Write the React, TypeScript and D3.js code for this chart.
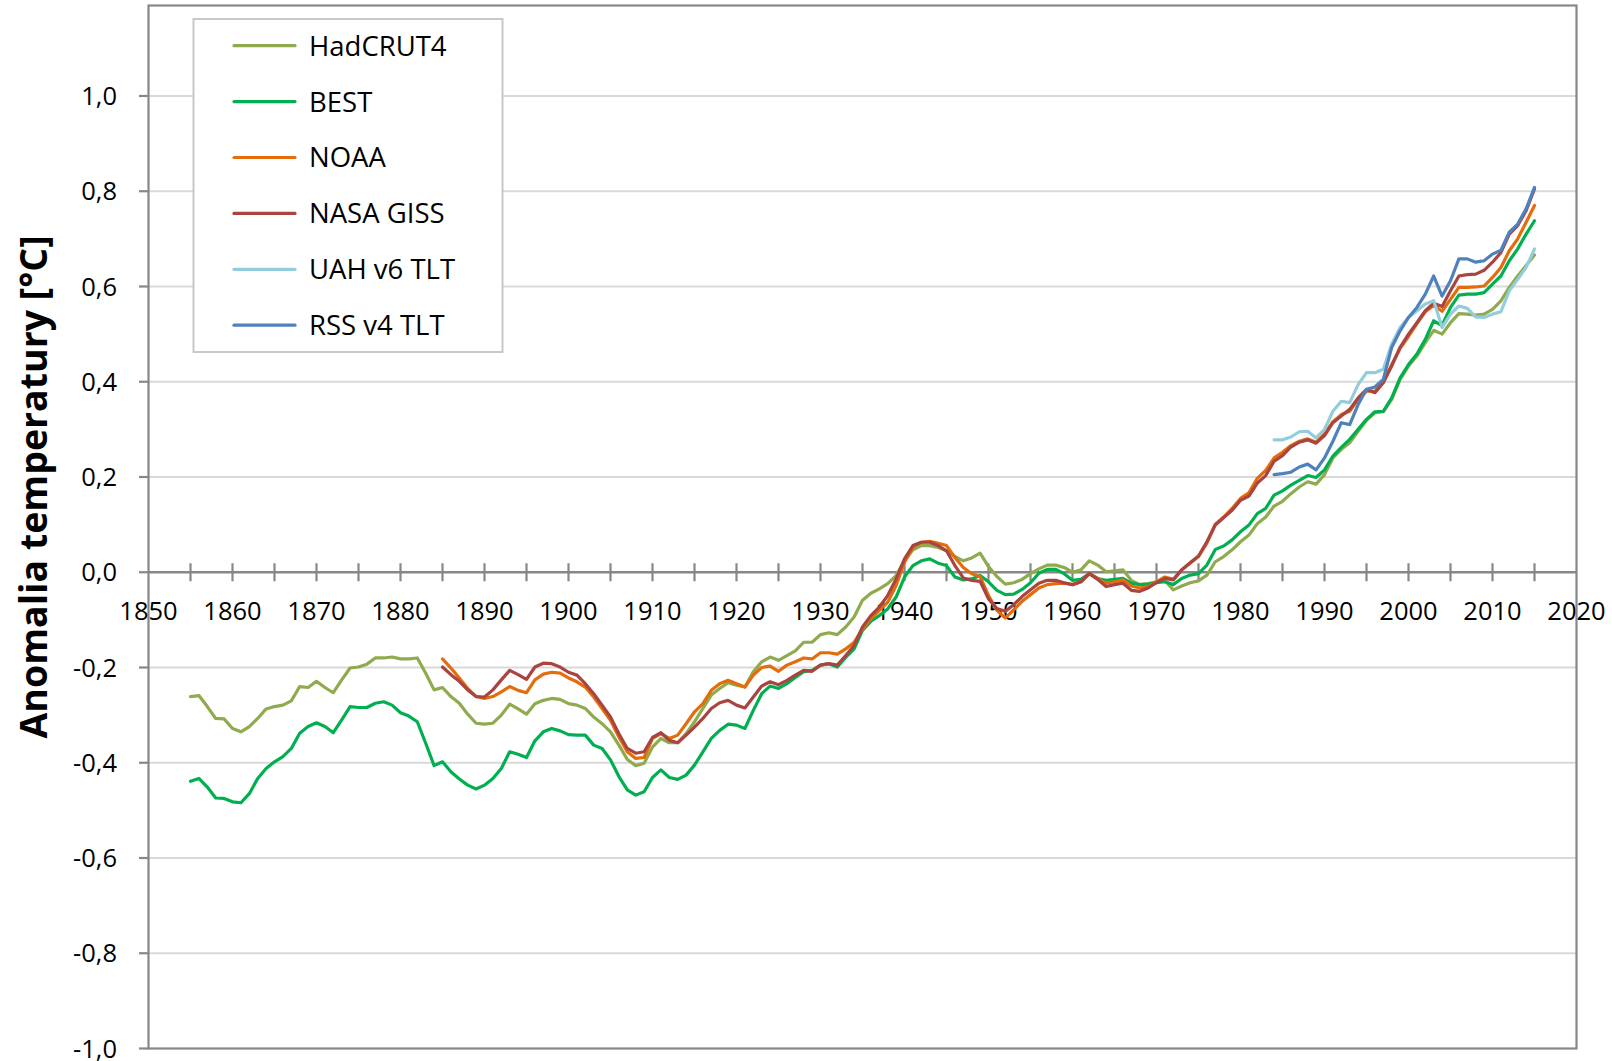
import React from "react";
import * as d3 from "d3";

// ---------- data ----------
const hadcrut4Start = 1855;
const hadcrut4 = [
  -0.261, -0.259, -0.282, -0.307, -0.308, -0.328, -0.335, -0.324, -0.307, -0.287, // 1855-1864
  -0.282, -0.279, -0.270, -0.240, -0.242, -0.229, -0.242, -0.253, -0.226, -0.201, // 1865-1874
  -0.199, -0.193, -0.180, -0.180, -0.178, -0.182, -0.182, -0.180, -0.212, -0.247, // 1875-1884
  -0.242, -0.261, -0.275, -0.298, -0.317, -0.319, -0.317, -0.300, -0.277, -0.287, // 1885-1894
  -0.298, -0.276, -0.269, -0.265, -0.267, -0.276, -0.279, -0.286, -0.304, -0.318, // 1895-1904
  -0.335, -0.363, -0.393, -0.406, -0.401, -0.367, -0.349, -0.358, -0.358, -0.339, // 1905-1914
  -0.314, -0.286, -0.258, -0.244, -0.232, -0.237, -0.241, -0.209, -0.188, -0.178, // 1915-1924
  -0.185, -0.175, -0.165, -0.147, -0.147, -0.131, -0.127, -0.131, -0.115, -0.094, // 1925-1934
  -0.059, -0.044, -0.035, -0.024, -0.007, 0.024, 0.047, 0.056, 0.056, 0.052, // 1935-1944
  0.045, 0.033, 0.024, 0.030, 0.040, 0.012, -0.009, -0.025, -0.022, -0.015, // 1945-1954
  -0.003, 0.007, 0.015, 0.015, 0.010, 0.000, 0.005, 0.024, 0.015, 0.001, // 1955-1964
  0.003, 0.005, -0.017, -0.026, -0.024, -0.020, -0.017, -0.037, -0.029, -0.022, // 1965-1974
  -0.018, -0.006, 0.022, 0.033, 0.047, 0.064, 0.078, 0.102, 0.116, 0.139, // 1975-1984
  0.149, 0.165, 0.179, 0.190, 0.185, 0.205, 0.240, 0.258, 0.272, 0.296, // 1985-1994
  0.319, 0.335, 0.337, 0.363, 0.405, 0.433, 0.454, 0.482, 0.508, 0.500, // 1995-2004
  0.524, 0.543, 0.542, 0.540, 0.542, 0.552, 0.570, 0.598, 0.622, 0.644, // 2005-2014
  0.666, // 2015
];

const bestStart = 1855;
const best = [
  -0.439, -0.433, -0.451, -0.474, -0.475, -0.482, -0.484, -0.465, -0.433, -0.412, // 1855-1864
  -0.398, -0.387, -0.370, -0.338, -0.324, -0.316, -0.324, -0.337, -0.310, -0.282, // 1865-1874
  -0.284, -0.284, -0.275, -0.272, -0.279, -0.295, -0.302, -0.314, -0.359, -0.406, // 1875-1884
  -0.398, -0.419, -0.434, -0.447, -0.455, -0.447, -0.433, -0.412, -0.377, -0.382, // 1885-1894
  -0.389, -0.354, -0.335, -0.328, -0.333, -0.341, -0.342, -0.342, -0.363, -0.370, // 1895-1904
  -0.394, -0.429, -0.457, -0.468, -0.461, -0.431, -0.415, -0.431, -0.435, -0.426, // 1905-1914
  -0.405, -0.377, -0.349, -0.332, -0.319, -0.321, -0.328, -0.290, -0.255, -0.239, // 1915-1924
  -0.244, -0.234, -0.221, -0.209, -0.206, -0.195, -0.192, -0.199, -0.179, -0.161, // 1925-1934
  -0.122, -0.103, -0.091, -0.077, -0.052, -0.010, 0.014, 0.024, 0.028, 0.019, // 1935-1944
  0.014, -0.010, -0.016, -0.014, -0.007, -0.020, -0.038, -0.047, -0.046, -0.036, // 1945-1954
  -0.022, -0.002, 0.006, 0.006, -0.003, -0.017, -0.015, -0.003, -0.013, -0.017, // 1955-1964
  -0.015, -0.013, -0.023, -0.026, -0.025, -0.022, -0.020, -0.026, -0.013, -0.006, // 1965-1974
  -0.003, 0.015, 0.048, 0.055, 0.068, 0.085, 0.099, 0.123, 0.134, 0.162, // 1975-1984
  0.171, 0.183, 0.193, 0.203, 0.199, 0.215, 0.244, 0.262, 0.279, 0.300, // 1985-1994
  0.321, 0.337, 0.338, 0.366, 0.408, 0.436, 0.458, 0.489, 0.528, 0.518, // 1995-2004
  0.556, 0.582, 0.584, 0.584, 0.587, 0.605, 0.622, 0.654, 0.679, 0.710, // 2005-2014
  0.738, // 2015
];

const noaaStart = 1885;
const noaa = [
  -0.182, -0.201, -0.222, -0.244, -0.261, -0.265, -0.261, -0.251, -0.240, -0.248, // 1885-1894
  -0.253, -0.226, -0.214, -0.210, -0.212, -0.222, -0.230, -0.241, -0.262, -0.286, // 1895-1904
  -0.311, -0.346, -0.377, -0.391, -0.389, -0.349, -0.339, -0.349, -0.342, -0.318, // 1905-1914
  -0.293, -0.276, -0.248, -0.234, -0.227, -0.234, -0.241, -0.216, -0.200, -0.197, // 1915-1924
  -0.208, -0.195, -0.188, -0.180, -0.182, -0.169, -0.169, -0.172, -0.161, -0.147, // 1925-1934
  -0.119, -0.098, -0.080, -0.063, -0.028, 0.021, 0.052, 0.063, 0.065, 0.061, // 1935-1944
  0.056, 0.031, 0.010, -0.003, -0.009, -0.049, -0.080, -0.096, -0.079, -0.061, // 1945-1954
  -0.047, -0.033, -0.026, -0.024, -0.023, -0.026, -0.020, -0.003, -0.013, -0.023, // 1955-1964
  -0.020, -0.016, -0.029, -0.033, -0.030, -0.020, -0.010, -0.015, 0.005, 0.019, // 1965-1974
  0.033, 0.061, 0.101, 0.116, 0.134, 0.155, 0.167, 0.197, 0.214, 0.240, // 1975-1984
  0.252, 0.266, 0.275, 0.280, 0.273, 0.291, 0.316, 0.331, 0.338, 0.363, // 1985-1994
  0.380, 0.380, 0.400, 0.436, 0.470, 0.495, 0.522, 0.547, 0.560, 0.548, // 1995-2004
  0.573, 0.598, 0.598, 0.599, 0.601, 0.619, 0.640, 0.675, 0.700, 0.735, // 2005-2014
  0.770, // 2015
];

const nasaGissStart = 1885;
const nasaGiss = [
  -0.199, -0.215, -0.229, -0.247, -0.261, -0.262, -0.247, -0.226, -0.206, -0.215, // 1885-1894
  -0.225, -0.199, -0.191, -0.192, -0.199, -0.210, -0.216, -0.234, -0.255, -0.279, // 1895-1904
  -0.304, -0.339, -0.370, -0.380, -0.377, -0.347, -0.337, -0.353, -0.358, -0.342, // 1905-1914
  -0.325, -0.307, -0.286, -0.274, -0.269, -0.279, -0.285, -0.262, -0.239, -0.230, // 1915-1924
  -0.236, -0.227, -0.216, -0.206, -0.208, -0.195, -0.192, -0.195, -0.175, -0.154, // 1925-1934
  -0.115, -0.091, -0.073, -0.049, -0.014, 0.028, 0.056, 0.063, 0.063, 0.056, // 1935-1944
  0.045, 0.014, -0.012, -0.017, -0.019, -0.056, -0.076, -0.082, -0.068, -0.051, // 1945-1954
  -0.037, -0.023, -0.017, -0.017, -0.022, -0.026, -0.020, -0.003, -0.015, -0.030, // 1955-1964
  -0.026, -0.023, -0.038, -0.040, -0.033, -0.022, -0.013, -0.016, 0.005, 0.020, // 1965-1974
  0.034, 0.064, 0.099, 0.115, 0.130, 0.151, 0.160, 0.187, 0.203, 0.233, // 1975-1984
  0.245, 0.263, 0.273, 0.278, 0.271, 0.287, 0.314, 0.328, 0.342, 0.366, // 1985-1994
  0.384, 0.377, 0.398, 0.433, 0.472, 0.500, 0.524, 0.549, 0.565, 0.558, // 1995-2004
  0.591, 0.622, 0.625, 0.626, 0.634, 0.651, 0.671, 0.710, 0.728, 0.759, // 2005-2014
  0.805, // 2015
];

const uahStart = 1984;
const uah = [
  0.278, 0.278, 0.284, 0.295, 0.296, 0.282, 0.300, 0.338, 0.359, 0.356, // 1984-1993
  0.394, 0.419, 0.419, 0.426, 0.479, 0.514, 0.535, 0.549, 0.563, 0.570, // 1994-2003
  0.514, 0.542, 0.559, 0.554, 0.536, 0.535, 0.542, 0.547, 0.591, 0.615, // 2004-2013
  0.640, 0.679, // 2014-2015
];

const rssStart = 1984;
const rss = [
  0.205, 0.207, 0.210, 0.221, 0.227, 0.215, 0.240, 0.275, 0.314, 0.310, // 1984-1993
  0.352, 0.384, 0.389, 0.405, 0.472, 0.507, 0.535, 0.556, 0.584, 0.622, // 1994-2003
  0.580, 0.612, 0.658, 0.658, 0.651, 0.654, 0.668, 0.676, 0.714, 0.731, // 2004-2013
  0.763, 0.808, // 2014-2015
];

const seriesNames = ["HadCRUT4", "BEST", "NOAA", "NASA GISS", "UAH v6 TLT", "RSS v4 TLT"];
const seriesColors = ["#8FAB4E", "#00B050", "#E46C0A", "#A94441", "#93CDDD", "#4F81BD"];
const seriesValues = [hadcrut4, best, noaa, nasaGiss, uah, rss];
const seriesStarts = [hadcrut4Start, bestStart, noaaStart, nasaGissStart, uahStart, rssStart];

const yTickValues = [-1.0, -0.8, -0.6, -0.4, -0.2, 0.0, 0.2, 0.4, 0.6, 0.8, 1.0];
const yTickLabels = ["-1,0", "-0,8", "-0,6", "-0,4", "-0,2", "0,0", "0,2", "0,4", "0,6", "0,8", "1,0"];
const xLabelYears = [1850, 1860, 1870, 1880, 1890, 1900, 1910, 1920, 1930, 1940, 1950, 1960, 1970, 1980, 1990, 2000, 2010, 2020];
const xMinorTicks = [1855, 1860, 1865, 1870, 1875, 1880, 1885, 1890, 1895, 1900, 1905, 1910, 1915, 1920, 1925, 1930, 1935, 1940, 1945, 1950, 1955, 1960, 1965, 1970, 1975, 1980, 1985, 1990, 1995, 2000, 2005, 2010, 2015];
const yAxisTitle = "Anomalia temperatury [°C]";

// ---------- layout ----------
const W = 1612;
const H = 1061;
const FONT = "'Open Sans', 'Noto Sans', sans-serif";

export default function App() {
  const x = d3.scaleLinear().domain([1850, 2020]).range([148.5, 1576.5]);
  const y = d3.scaleLinear().domain([-1, 1.19]).range([1048.5, 5.5]);
  const [x0, x1] = x.range();
  const [yb, yt] = y.range();

  const line = d3
    .line<[number, number]>()
    .x((d) => x(d[0]))
    .y((d) => y(d[1]))
    .curve(d3.curveLinear);

  const series = seriesValues.map((vals, i) => ({
    name: seriesNames[i],
    color: seriesColors[i],
    points: vals.map((v, k) => [seriesStarts[i] + k, v] as [number, number]),
  }));

  const axisColor = "#878787";
  const gridColor = "#D9D9D9";

  const legend = { x: 193.5, y: 19, w: 309, h: 333, row0: 45.7, rowStep: 55.9 };

  return (
    <svg
      width={W}
      height={H}
      style={{ position: "absolute", left: 0, top: 0, background: "#fff" }}
      fontFamily={FONT}
    >
      <rect x={0} y={0} width={W} height={H} fill="#fff" />

      {/* gridlines */}
      {yTickValues
        .filter((v) => v !== 0 && v !== -1)
        .map((v) => (
          <line key={"g" + v} x1={x0} x2={x1} y1={y(v)} y2={y(v)} stroke={gridColor} strokeWidth={2} />
        ))}

      {/* plot frame */}
      <rect x={x0} y={yt} width={x1 - x0} height={yb - yt} fill="none" stroke={axisColor} strokeWidth={2.2} />

      {/* y ticks and labels */}
      {yTickValues.map((v, i) => (
        <g key={"yt" + v}>
          <line x1={x0 - 9.5} x2={x0} y1={y(v)} y2={y(v)} stroke={axisColor} strokeWidth={2.2} />
          <text x={117} y={y(v)} dy="0.36em" textAnchor="end" fontSize={25.5} fill="#000">
            {yTickLabels[i]}
          </text>
        </g>
      ))}

      {/* x axis at zero */}
      <line x1={x0} x2={x1} y1={y(0)} y2={y(0)} stroke={axisColor} strokeWidth={2.6} />
      {xMinorTicks.map((t) => (
        <line key={"xt" + t} x1={x(t)} x2={x(t)} y1={y(0) - 9} y2={y(0) + 9} stroke={axisColor} strokeWidth={2.2} />
      ))}
      {xLabelYears.map((t) => (
        <text key={"xl" + t} x={x(t)} y={620} textAnchor="middle" fontSize={25.5} fill="#000">
          {t}
        </text>
      ))}

      {/* series */}
      {series.map((s) => (
        <path
          key={s.name}
          d={line(s.points) || ""}
          fill="none"
          stroke={s.color}
          strokeWidth={3.2}
          strokeLinejoin="round"
          strokeLinecap="round"
        />
      ))}

      {/* legend */}
      <rect x={legend.x} y={legend.y} width={legend.w} height={legend.h} fill="#fff" stroke="#C8C8C8" strokeWidth={2} />
      {series.map((s, i) => {
        const cy = legend.row0 + i * legend.rowStep;
        return (
          <g key={"lg" + s.name}>
            <line x1={234} x2={295} y1={cy} y2={cy} stroke={s.color} strokeWidth={3.2} strokeLinecap="round" />
            <text x={309} y={cy} dy="0.36em" fontSize={27.5} fill="#000">
              {s.name}
            </text>
          </g>
        );
      })}

      {/* y axis title */}
      <text
        transform={`translate(47, 487) rotate(-90)`}
        textAnchor="middle"
        fontSize={37.5}
        fontWeight="bold"
        fill="#000"
      >
        {yAxisTitle}
      </text>
    </svg>
  );
}
